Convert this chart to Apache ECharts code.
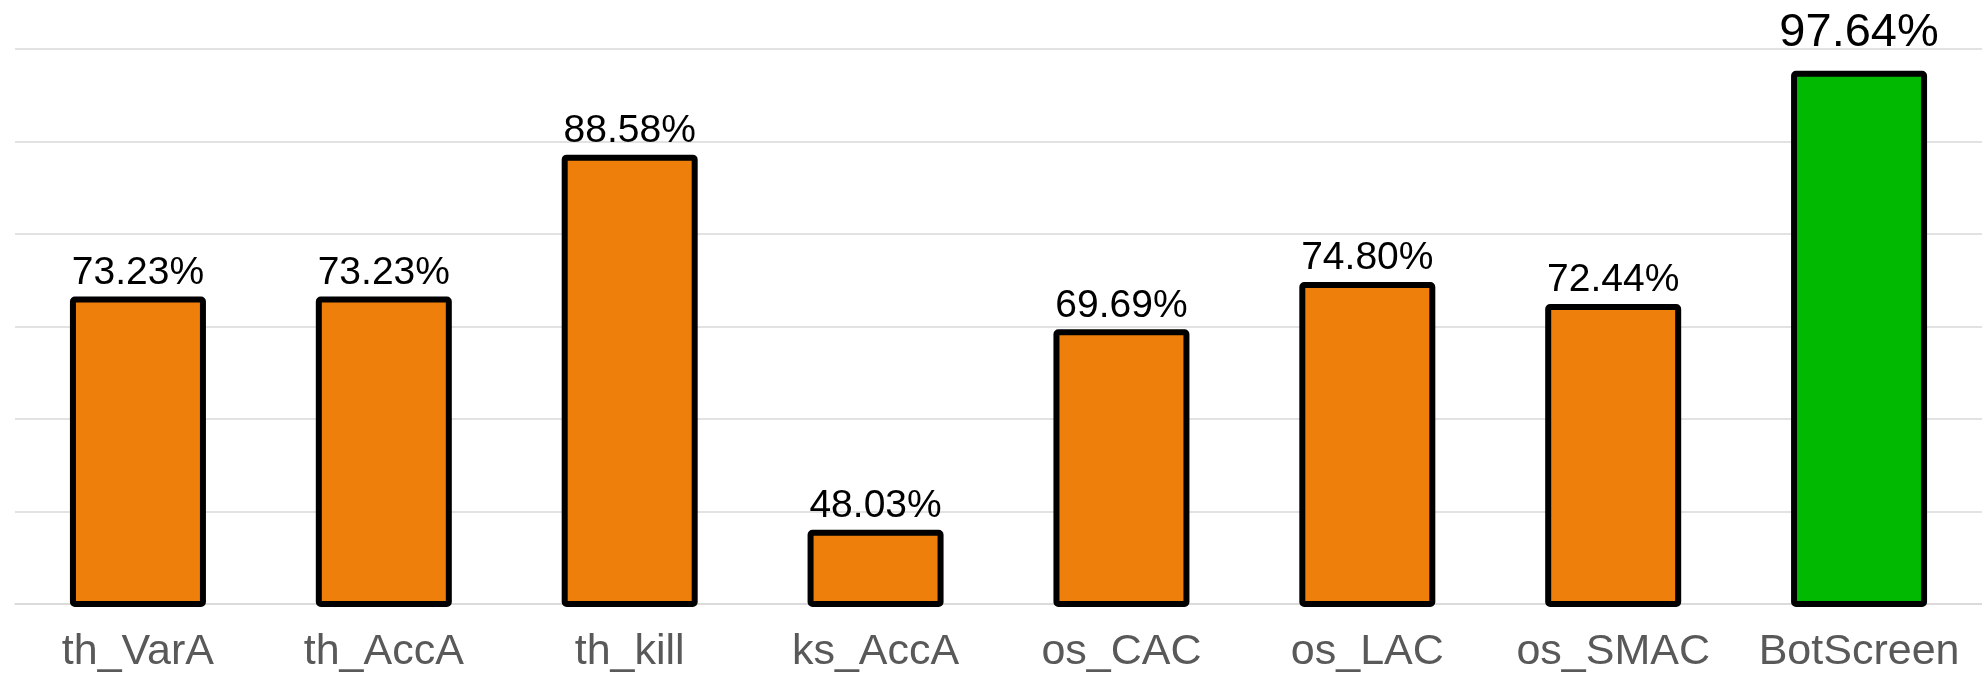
<!DOCTYPE html>
<html>
<head>
<meta charset="utf-8">
<script src="https://cdn.jsdelivr.net/npm/echarts@6/dist/echarts.min.js"></script>
<style>
html,body{margin:0;padding:0;background:#fff;}
#chart{width:1982px;height:675px;}
</style>
</head>
<body>
<div id="chart"></div>
<script>
var categories = ['th_VarA','th_AccA','th_kill','ks_AccA','os_CAC','os_LAC','os_SMAC','BotScreen'];
var values = [73.23, 73.23, 88.58, 48.03, 69.69, 74.80, 72.44, 97.64];
var highlightName = 'BotScreen';

var FONT = '"Liberation Sans", Arial, sans-serif';
var chart = echarts.init(document.getElementById('chart'), null, {renderer:'canvas'});

var seriesData = values.map(function(v, i){
  var hi = categories[i] === highlightName;
  return {
    value: v,
    itemStyle: { color: hi ? '#00B900' : '#EF7F0B' },
    label: hi ? { fontSize: 47, distance: 14 } : { fontSize: 39, distance: 4 }
  };
});

chart.setOption({
  animation: false,
  backgroundColor: '#fff',
  grid: { left: 15, right: 0, top: 49, bottom: 71, containLabel: false },
  xAxis: {
    type: 'category',
    data: categories,
    axisLine: { show: true, lineStyle: { color: '#d9d9d9', width: 1.5 } },
    axisTick: { show: false },
    axisLabel: { color: '#595959', fontSize: 43, fontFamily: FONT, margin: 27, interval: 0 }
  },
  yAxis: {
    type: 'value',
    min: 40, max: 100, interval: 10,
    axisLine: { show: false },
    axisTick: { show: false },
    axisLabel: { show: false },
    splitLine: { lineStyle: { color: '#d9d9d9', width: 1.5 } }
  },
  series: [{
    type: 'bar',
    data: seriesData,
    barWidth: 136,
    itemStyle: { borderColor: '#000', borderWidth: 6, borderRadius: 2 },
    label: {
      show: true,
      position: 'top',
      color: '#000',
      fontFamily: FONT,
      formatter: function(p){ return p.value.toFixed(2) + '%'; }
    }
  }]
});
</script>
</body>
</html>
